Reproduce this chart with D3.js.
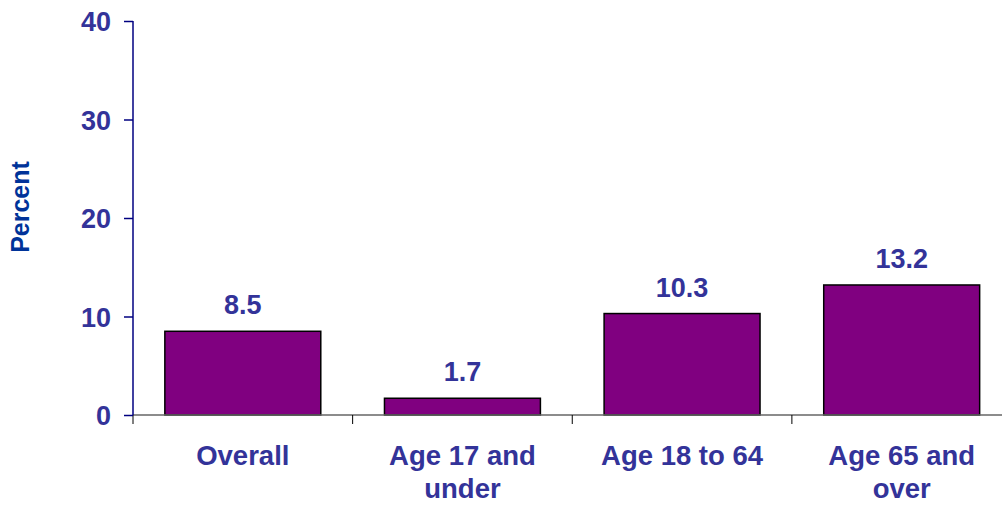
<!DOCTYPE html>
<html>
<head>
<meta charset="utf-8">
<script src="https://cdn.jsdelivr.net/npm/d3@7"></script>
<style>
  html, body { margin: 0; padding: 0; background: #fff; }
  svg { display: block; }
  text { font-family: "Liberation Sans", Arial, sans-serif; font-weight: bold; }
</style>
</head>
<body>
<svg id="chart" width="1002" height="506"></svg>
<script>
// Share of people in each age group (percent)
const categories = [["Overall"], ["Age 17 and", "under"], ["Age 18 to 64"], ["Age 65 and", "over"]];
const values = [8.5, 1.7, 10.3, 13.2];
const valueLabels = ["8.5", "1.7", "10.3", "13.2"];
const yTicks = [0, 10, 20, 30, 40];

const svg = d3.select("#chart");
const plotLeft = 133, plotRight = 1011.5, plotTop = 21, plotBottom = 415;
const textColor = "#333399";

const x = d3.scaleBand()
  .domain(d3.range(values.length))
  .range([plotLeft, plotRight])
  .paddingInner(0.29)
  .paddingOuter(0.145);

const y = d3.scaleLinear().domain([0, 40]).range([plotBottom, plotTop]);

// Bars
svg.append("g").selectAll("rect")
  .data(values)
  .join("rect")
  .attr("x", (d, i) => x(i))
  .attr("y", d => y(d))
  .attr("width", x.bandwidth())
  .attr("height", d => y(0) - y(d))
  .attr("fill", "#800080")
  .attr("stroke", "#000")
  .attr("stroke-width", 1.5);

// Value labels above bars
svg.append("g").selectAll("text")
  .data(values)
  .join("text")
  .attr("x", (d, i) => x(i) + x.bandwidth() / 2)
  .attr("y", d => y(d) - 17)
  .attr("text-anchor", "middle")
  .attr("font-size", 27)
  .attr("fill", textColor)
  .text((d, i) => valueLabels[i]);

// X axis baseline with ticks at band edges
const xAxis = svg.append("g");
xAxis.append("line")
  .attr("x1", plotLeft).attr("x2", 1002)
  .attr("y1", y(0)).attr("y2", y(0))
  .attr("stroke", "#666").attr("stroke-width", 1.5);
const edges = d3.range(values.length).map(i => x(i) - x.step() * x.paddingInner() / 2);
xAxis.selectAll("line.tick")
  .data(edges)
  .join("line")
  .attr("class", "tick")
  .attr("x1", d => d).attr("x2", d => d)
  .attr("y1", y(0)).attr("y2", y(0) + 9)
  .attr("stroke", "#000").attr("stroke-width", 1);

// Category labels
const cat = svg.append("g").selectAll("text")
  .data(categories)
  .join("text")
  .attr("text-anchor", "middle")
  .attr("font-size", 27.5)
  .attr("fill", textColor);
cat.selectAll("tspan")
  .data((d, i) => d.map(line => ({ line, i })))
  .join("tspan")
  .attr("x", d => x(d.i) + x.bandwidth() / 2)
  .attr("y", (d, j) => 465 + j * 33)
  .text(d => d.line);

// Y axis
const yAxis = svg.append("g")
  .attr("transform", `translate(${plotLeft},0)`)
  .call(d3.axisLeft(y).tickValues(yTicks).tickSize(9).tickPadding(13).tickFormat(d3.format("d")));
yAxis.select(".domain").attr("stroke", "#000080").attr("stroke-width", 1.5).attr("d", `M0,${plotTop}V${plotBottom}`);
yAxis.selectAll(".tick line").attr("stroke", "#000080").attr("stroke-width", 1.5);
yAxis.selectAll(".tick text")
  .attr("font-size", 27)
  .attr("font-family", "Liberation Sans, Arial, sans-serif")
  .attr("font-weight", "bold")
  .attr("fill", textColor)
  .attr("dy", "0.36em");

// Y axis title
svg.append("text")
  .attr("transform", "translate(29,207) rotate(-90)")
  .attr("text-anchor", "middle")
  .attr("font-size", 25)
  .attr("fill", "#003399")
  .text("Percent");
</script>
</body>
</html>
